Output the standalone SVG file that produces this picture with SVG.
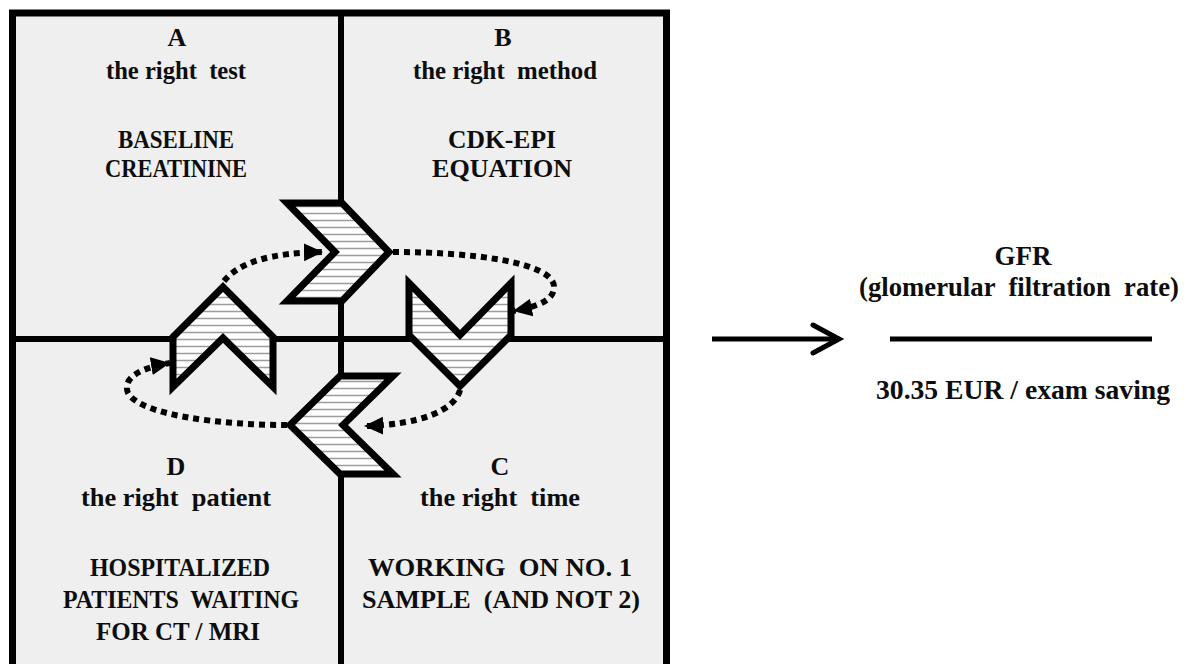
<svg xmlns="http://www.w3.org/2000/svg" width="1186" height="664" viewBox="0 0 1186 664">
  <style>
    .t { font-family: "Liberation Serif", "Times New Roman", serif; font-weight: bold; fill: #0d0d0d; text-anchor: middle; }
    .q { font-size: 26px; }
    .r { font-size: 27px; }
    .quad { fill: #efefef; }
    .chev { fill: url(#stripes); stroke: #000; stroke-width: 7; stroke-linejoin: miter; stroke-miterlimit: 10; }
    .dot { fill: none; stroke: #000; stroke-width: 6; stroke-dasharray: 6 5; marker-end: url(#tri); }
  </style>
  <defs>
    <pattern id="stripes" patternUnits="userSpaceOnUse" width="10" height="7">
      <rect width="10" height="7" fill="#ffffff"/>
      <line x1="0" y1="3.5" x2="10" y2="3.5" stroke="#9c9c9c" stroke-width="1.5"/>
    </pattern>
    <marker id="tri" markerUnits="userSpaceOnUse" markerWidth="22" markerHeight="20" refX="19" refY="9" orient="auto">
      <path d="M0,0 L19,9 L0,18 Z" fill="#000"/>
    </marker>
  </defs>
  <rect width="1186" height="664" fill="#ffffff"/>

  <g id="quadrant-A">
    <rect class="quad" x="12" y="13" width="329" height="326"/>
    <text class="t q" x="177" y="46">A</text>
    <text class="t q" x="176" y="79" xml:space="preserve" textLength="140" lengthAdjust="spacingAndGlyphs">the right  test</text>
    <text class="t q" x="176" y="148" textLength="116" lengthAdjust="spacingAndGlyphs">BASELINE</text>
    <text class="t q" x="176" y="177" textLength="142" lengthAdjust="spacingAndGlyphs">CREATININE</text>
  </g>
  <g id="quadrant-B">
    <rect class="quad" x="341" y="13" width="325" height="326"/>
    <text class="t q" x="503" y="46">B</text>
    <text class="t q" x="505" y="79" xml:space="preserve" textLength="184" lengthAdjust="spacingAndGlyphs">the right  method</text>
    <text class="t q" x="502" y="148" textLength="108" lengthAdjust="spacingAndGlyphs">CDK-EPI</text>
    <text class="t q" x="502" y="177" textLength="140" lengthAdjust="spacingAndGlyphs">EQUATION</text>
  </g>
  <g id="quadrant-C">
    <rect class="quad" x="341" y="339" width="325" height="340"/>
    <text class="t q" x="500" y="475">C</text>
    <text class="t q" x="500" y="506" xml:space="preserve" textLength="160" lengthAdjust="spacingAndGlyphs">the right  time</text>
    <text class="t q" x="500" y="576" xml:space="preserve" textLength="264" lengthAdjust="spacingAndGlyphs">WORKING  ON NO. 1</text>
    <text class="t q" x="501" y="608" xml:space="preserve" textLength="278" lengthAdjust="spacingAndGlyphs">SAMPLE  (AND NOT 2)</text>
  </g>
  <g id="quadrant-D">
    <rect class="quad" x="12" y="339" width="329" height="340"/>
    <text class="t q" x="176" y="475">D</text>
    <text class="t q" x="176" y="506" xml:space="preserve" textLength="190" lengthAdjust="spacingAndGlyphs">the right  patient</text>
    <text class="t q" x="180" y="576" textLength="180" lengthAdjust="spacingAndGlyphs">HOSPITALIZED</text>
    <text class="t q" x="181" y="608" xml:space="preserve" textLength="236" lengthAdjust="spacingAndGlyphs">PATIENTS  WAITING</text>
    <text class="t q" x="178" y="640" textLength="164" lengthAdjust="spacingAndGlyphs">FOR CT / MRI</text>
  </g>

  <g id="frame" fill="none" stroke="#000">
    <rect x="12.5" y="13" width="654" height="680" stroke-width="7"/>
    <line x1="341" y1="13" x2="341" y2="664" stroke-width="6"/>
    <line x1="12" y1="339" x2="666" y2="339" stroke-width="6"/>
  </g>

  <g id="chevron-right">
    <path class="chev" d="M287,203 L342,203 L389,252 L342,301 L287,301 L335,252 Z"/>
  </g>
  <g id="chevron-down">
    <path class="chev" d="M409,283 L460,335 L511,283 L511,335 L460,386 L409,335 Z"/>
  </g>
  <g id="chevron-left">
    <path class="chev" d="M290,425 L340,376 L393,376 L343,425 L393,474 L340,474 Z"/>
  </g>
  <g id="chevron-up">
    <path class="chev" d="M223,287 L273,337 L273,387 L223,338 L173,387 L173,337 Z"/>
  </g>

  <g id="gfr">
    <text class="t r" x="1023" y="265">GFR</text>
    <text class="t r" x="1019" y="296" xml:space="preserve" textLength="320" lengthAdjust="spacingAndGlyphs">(glomerular  filtration  rate)</text>
    <line x1="890" y1="339" x2="1152" y2="339" stroke="#000" stroke-width="5"/>
    <text class="t r" x="1023" y="399" textLength="294" lengthAdjust="spacingAndGlyphs">30.35 EUR / exam saving</text>
  </g>

  <g id="connectors">
    <path class="dot" d="M224,281 C240,262 270,253 323,252"/>
    <path class="dot" d="M393,252 C470,252 556,262 554,288 C553,300 540,306 513,311"/>
    <path class="dot" d="M460,390 C455,410 420,425 364,426"/>
    <path class="dot" d="M287,425 C220,425 140,415 128,393 C122,378 140,368 170,363"/>
    <line x1="712" y1="339" x2="838" y2="339" stroke="#000" stroke-width="5"/>
    <polyline points="813,325 839,339 813,353" fill="none" stroke="#000" stroke-width="5" stroke-linecap="round"/>
  </g>
</svg>
